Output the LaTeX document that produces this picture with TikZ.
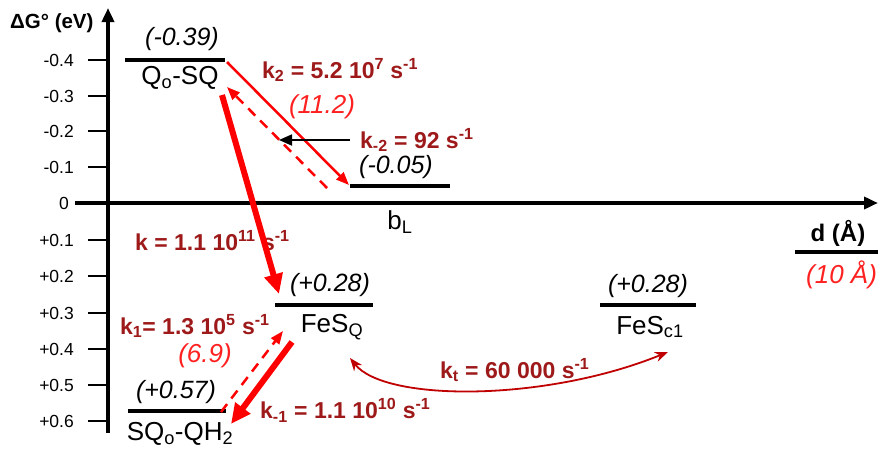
\documentclass[tikz,border=0pt]{standalone}
\usepackage{fontspec}
\setmainfont{Liberation Sans}
\usetikzlibrary{arrows.meta}
\definecolor{dred}{HTML}{9E1A1A}
\definecolor{lred}{HTML}{FF2020}
\definecolor{ared}{HTML}{FF0000}
\definecolor{cred}{HTML}{C00000}
\begin{document}
\begin{tikzpicture}[x=1pt,y=-1pt,
  axisline/.style={line width=3.8pt,-{Triangle[length=14pt,width=12pt]}},
  tickline/.style={line width=2.4pt},
  ticklab/.style={anchor=east,inner sep=0pt,font=\fontsize{17.5}{17.5}\selectfont},
  lvl/.style={line width=4pt},
  lvname/.style={inner sep=0pt,font=\fontsize{26}{26}\selectfont},
  lvval/.style={inner sep=0pt,font=\fontsize{25}{25}\selectfont\itshape},
  rate/.style={inner sep=0pt,text=dred,font=\fontsize{23}{23}\selectfont\bfseries},
  redval/.style={inner sep=0pt,text=lred,font=\fontsize{26}{26}\selectfont\itshape},
  thinarr/.style={draw=ared,line width=2.5pt,-{Triangle[length=13pt,width=10pt]}},
  dasharr/.style={draw=ared,line width=2.5pt,dash pattern=on 10pt off 7pt,-{Triangle[length=13pt,width=10pt]}},
  thickarr/.style={draw=ared,line width=6pt,-{Triangle[length=20pt,width=18pt]}},
]
\useasboundingbox (0,0) rectangle (878,448);
% axes
\draw[axisline] (108,433) -- (108,8);
\draw[axisline] (75,203) -- (878,203);
\node[inner sep=0pt,anchor=west,font=\fontsize{20.5}{20.5}\selectfont\bfseries] (ylab) at (10,23) {ΔG° (eV)};
\foreach \y/\t [count=\i] in {60/-0.4,96/-0.3,131/-0.2,167/-0.1,240/+0.1,276/+0.2,313/+0.3,349/+0.4,385/+0.5,421/+0.6}{
  \draw[tickline] (88,\y) -- (108,\y);
  \node[ticklab] (t\i) at (74,\y) {\t};
}
\node[ticklab] (t0) at (69,203) {0};
% levels
\draw[lvl] (125,60) -- (225,60);
\node[lvval] (v1) at (182,39) {(-0.39)};
\node[lvname] (n1) at (180,78) {Q\textsubscript{o}-SQ};
\draw[lvl] (350,186) -- (450,186);
\node[lvval] (v2) at (396,167) {(-0.05)};
\node[lvname] (n2) at (400,222) {b\textsubscript{L}};
\draw[lvl] (275,305) -- (373,305);
\node[lvval] (v3) at (330,285) {(+0.28)};
\node[lvname] (n3) at (332,327) {FeS\textsubscript{Q}};
\draw[lvl] (600,305) -- (696,305);
\node[lvval] (v4) at (648,286) {(+0.28)};
\node[lvname] (n4) at (650,327) {FeS\textsubscript{c1}};
\draw[lvl] (128,411) -- (226,411);
\node[lvval] (v5) at (176,392) {(+0.57)};
\node[lvname] (n5) at (180,434) {SQ\textsubscript{o}-QH\textsubscript{2}};
\draw[lvl] (795,252) -- (878,252);
\node[inner sep=0pt,font=\fontsize{24}{24}\selectfont\bfseries] (dl) at (838,233) {d (Å)};
\node[redval,anchor=west] (dv) at (806,275) {(10 Å)};
% rate labels
\node[rate,anchor=west] (r1) at (262,70) {k\textsubscript{2} = 5.2 10\textsuperscript{7} s\textsuperscript{-1}};
\node[redval] (r1v) at (322,107) {(11.2)};
\node[rate,anchor=west] (r2) at (360,140) {k\textsubscript{-2} = 92 s\textsuperscript{-1}};
\node[rate,anchor=west] (r3) at (135,241) {k = 1.1 10\textsuperscript{11} s\textsuperscript{-1}};
\node[rate,anchor=west] (r4) at (120,326) {k\textsubscript{1}= 1.3 10\textsuperscript{5} s\textsuperscript{-1}};
\node[redval] (r4v) at (205,356) {(6.9)};
\node[rate,anchor=west] (r5) at (260,410) {k\textsubscript{-1} = 1.1 10\textsuperscript{10} s\textsuperscript{-1}};
\node[rate,anchor=west] (r6) at (440,370) {k\textsubscript{t} = 60 000 s\textsuperscript{-1}};
% arrow end coordinates
\coordinate (a1s) at (227,62);
\coordinate (a1e) at (349,185);
\coordinate (a2s) at (327,188);
\coordinate (a2e) at (227,87);
\coordinate (a3s) at (222,95);
\coordinate (a3e) at (279,294);
\coordinate (a4s) at (292,342);
\coordinate (a4e) at (231,424);
\coordinate (a5s) at (221,412);
\coordinate (a5e) at (283,331);
\coordinate (bks) at (350,140);
\coordinate (bke) at (279,140);
\coordinate (cts) at (350,358);
\coordinate (cte) at (668,352);
% arrows
\draw[thinarr] (a1s) -- (a1e);
\draw[dasharr] (a2s) -- (a2e);
\draw[thickarr] (a3s) -- (a3e);
\draw[thickarr] (a4s) -- (a4e);
\draw[dasharr] (a5s) -- (a5e);
\draw[line width=1.8pt,-{Triangle[length=13pt,width=11pt]}] (bks) -- (bke);
\draw[cred,line width=1.8pt,{Stealth[length=13pt,width=10pt]}-{Stealth[length=13pt,width=10pt]}] (cts) .. controls (385,402) and (545,402) .. (cte);
\end{tikzpicture}
\end{document}
